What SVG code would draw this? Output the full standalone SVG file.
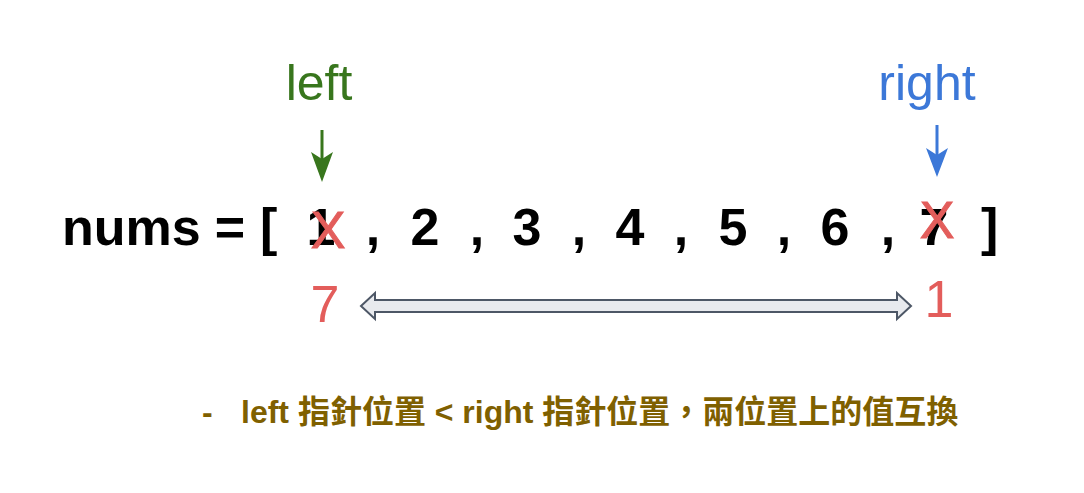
<svg xmlns="http://www.w3.org/2000/svg" width="1084" height="493" viewBox="0 0 1084 493">
<style>
.num{font-family:"Liberation Sans",Arial,sans-serif;font-weight:bold;font-size:52px;fill:#000;text-anchor:middle}
.red{font-family:"Liberation Sans",Arial,sans-serif;font-size:52px;fill:#e35d5b;text-anchor:middle}
.lbl{font-family:"Liberation Sans",Arial,sans-serif;font-size:50px;text-anchor:middle}
.note{font-family:"Liberation Sans","Noto Sans CJK TC",sans-serif;font-weight:bold;font-size:32px;fill:#7f6000}
</style>
<rect width="1084" height="493" fill="#fff"/>
<g id="array">
<text class="num" x="62" y="245" style="text-anchor:start">nums</text>
<text class="num" x="230" y="245">=</text>
<text class="num" x="260" y="245" style="text-anchor:start">[</text>
<text class="num" x="321" y="245">1</text>
<text class="num" x="373" y="245">,</text>
<text class="num" x="425" y="245">2</text>
<text class="num" x="477" y="245">,</text>
<text class="num" x="527" y="245">3</text>
<text class="num" x="579" y="245">,</text>
<text class="num" x="630" y="245">4</text>
<text class="num" x="681" y="245">,</text>
<text class="num" x="733" y="245">5</text>
<text class="num" x="784" y="245">,</text>
<text class="num" x="835" y="245">6</text>
<text class="num" x="888" y="245">,</text>
<text class="num" x="934" y="245">7</text>
<text class="num" x="981" y="245" style="text-anchor:start">]</text>
</g>
<g id="cross-left"><text class="red" x="328" y="248" stroke="#e35d5b" stroke-width="1">X</text></g>
<g id="cross-right"><text class="red" x="937" y="238" stroke="#e35d5b" stroke-width="1">X</text></g>
<g id="label-left"><text class="lbl" x="319" y="100" fill="#38761d">left</text></g>
<g id="label-right"><text class="lbl" x="927" y="100" fill="#3c78d8">right</text></g>
<g id="value-7"><text class="red" x="325" y="322">7</text></g>
<g id="value-1"><text class="red" x="939" y="317">1</text></g>
<g id="connectors">
<line x1="322" y1="130" x2="322" y2="162" stroke="#38761d" stroke-width="3"/>
<path d="M322,182 L311,152 L322,159 L333,152 Z" fill="#38761d"/>
<line x1="937" y1="125" x2="937" y2="157" stroke="#3c78d8" stroke-width="3"/>
<path d="M937,177 L926,148 L937,155 L948,148 Z" fill="#3c78d8"/>
<path d="M361,306 L375,293 L375,300 L897,300 L897,293 L911,306 L897,319 L897,312 L375,312 L375,319 Z" fill="#e8eaee" stroke="#4d5766" stroke-width="2" stroke-linejoin="miter"/>
</g>
<g id="note">
<text class="note" y="423" lang="zh-Hant"><tspan x="202">-</tspan><tspan x="241">left 指針位置 &lt; right 指針位置，兩位置上的值互換</tspan></text>
</g>
</svg>
